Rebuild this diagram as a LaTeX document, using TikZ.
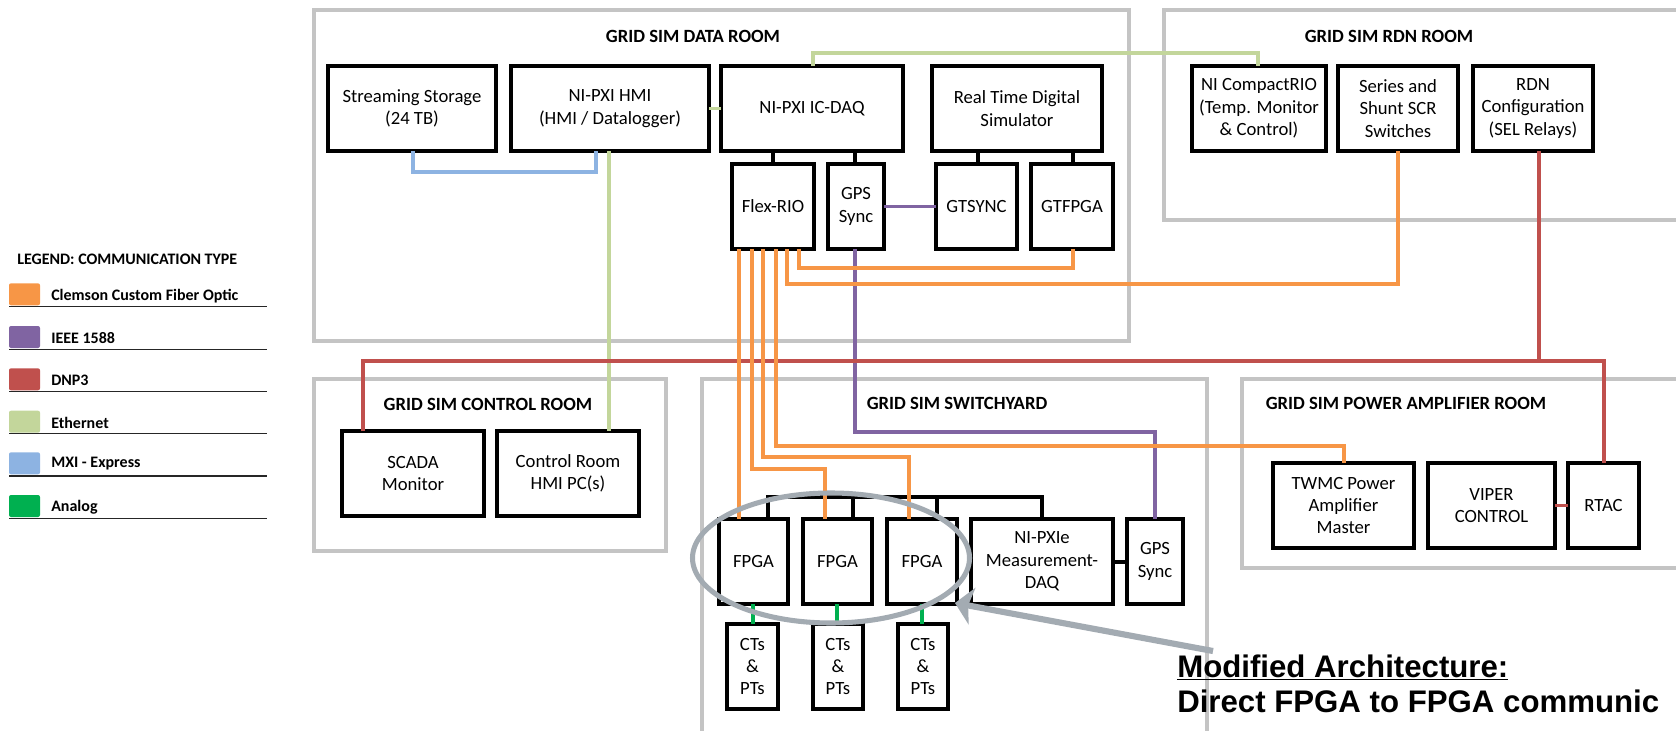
\documentclass[tikz,border=0pt]{standalone}
\usepackage{fontspec}
\setmainfont{Carlito}
\newfontfamily\arialfont{Liberation Sans}
\usetikzlibrary{arrows.meta,shapes.geometric}
\definecolor{cOrange}{RGB}{247,150,70}
\definecolor{cPurple}{RGB}{128,100,162}
\definecolor{cRed}{RGB}{192,80,77}
\definecolor{cEth}{RGB}{195,214,155}
\definecolor{cMxi}{RGB}{141,179,226}
\definecolor{cAnalog}{RGB}{0,176,80}
\definecolor{cRoom}{RGB}{196,196,196}
\definecolor{cHl}{RGB}{163,171,178}
\newcommand\roomrect[5]{\node[room, minimum width={(#4-#2)*0.75pt}, minimum height={(#5-#3)*0.75pt}] (#1) at ({(#2+#4)/2},{(#3+#5)/2}) {};}
\newcommand\devbox[6]{\node[devbox, minimum width={(#4-#2)*0.75pt}, minimum height={(#5-#3)*0.75pt}] (#1) at ({(#2+#4)/2},{(#3+#5)/2}) {#6};}
\begin{document}
\begin{tikzpicture}[x=0.75pt,y=-0.75pt,
  room/.style={draw=cRoom, line width=2.4pt, inner sep=0pt, outer sep=0pt},
  devbox/.style={draw=black, fill=white, line width=2.6pt, inner sep=0pt, outer sep=0pt, align=center, font=\fontsize{14}{16.8}\selectfont},
  roomtitle/.style={font=\bfseries\fontsize{14}{16.8}\selectfont, inner sep=0pt},
  conn/.style={line width=2.8pt},
  fiber/.style={conn, draw=cOrange},
  ieee/.style={conn, draw=cPurple},
  dnp/.style={conn, draw=cRed},
  eth/.style={conn, draw=cEth},
  mxi/.style={conn, draw=cMxi},
  analog/.style={conn, draw=cAnalog},
  blk/.style={conn, draw=black, line width=3pt},
  swatch/.style={draw=none, rounded corners=1.5pt, minimum width=31*0.75pt, minimum height=22*0.75pt, inner sep=0pt},
  legtext/.style={font=\bfseries\fontsize{12}{14}\selectfont, anchor=west, inner sep=0pt},
  legline/.style={draw=black!85, line width=1pt},
  hl/.style={draw=cHl, line width=3.8pt},
  bigtext/.style={font=\arialfont\bfseries\fontsize{23.4}{28}\selectfont, anchor=base west, inner sep=0pt}
]
\useasboundingbox (0,0) rectangle (1676,731);
\clip (0,0) rectangle (1676,731);

% ---------- rooms ----------
\roomrect{dataroom}{314}{10}{1129}{341}
\roomrect{rdnroom}{1164}{10}{1700}{220}
\roomrect{ctrlroom}{314}{379}{666}{551}
\roomrect{switchyard}{702}{379}{1207}{760}
\roomrect{paroom}{1242}{379}{1700}{568}

\node[roomtitle] (t1) at (693,36) {GRID SIM DATA ROOM};
\node[roomtitle] (t2) at (1389,36) {GRID SIM RDN ROOM};
\node[roomtitle] (t3) at (488,404) {GRID SIM CONTROL ROOM};
\node[roomtitle] (t4) at (957,403) {GRID SIM SWITCHYARD};
\node[roomtitle] (t5) at (1406,403) {GRID SIM POWER AMPLIFIER ROOM};

% ---------- devices ----------
\devbox{ssd}{328}{66}{496}{151}{Streaming Storage\\(24 TB)}
\devbox{hmi}{511}{66}{709}{151}{NI-PXI HMI\\(HMI / Datalogger)}
\devbox{icdaq}{721}{66}{903}{151}{NI-PXI IC-DAQ}
\devbox{rtds}{932}{66}{1102}{151}{Real Time Digital\\Simulator}
\devbox{flex}{732}{164}{814}{249}{Flex-RIO}
\devbox{gpsa}{828}{164}{884}{249}{GPS\\Sync}
\devbox{gtsync}{936}{164}{1017}{249}{GTSYNC}
\devbox{gtfpga}{1031}{164}{1113}{249}{GTFPGA}
\devbox{crio}{1192}{66}{1326}{151}{NI CompactRIO\\(Temp. Monitor\\\& Control)}
\devbox{scr}{1338}{66}{1458}{151}{Series and\\Shunt SCR\\Switches}
\devbox{rdn}{1473}{66}{1593}{151}{RDN\\Configuration\\(SEL Relays)}
\devbox{scada}{342}{431}{484}{516}{SCADA\\Monitor}
\devbox{crhmi}{497}{431}{639}{516}{Control Room\\HMI PC(s)}
\devbox{fpga1}{719}{519}{788}{604}{FPGA}
\devbox{fpga2}{803}{519}{872}{604}{FPGA}
\devbox{fpga3}{887}{519}{957}{604}{FPGA}
\devbox{pxie}{971}{519}{1113}{604}{NI-PXIe\\Measurement-\\DAQ}
\devbox{gpsb}{1127}{519}{1183}{604}{GPS\\Sync}
\devbox{ct1}{727}{624}{778}{709}{CTs\\\&\\PTs}
\devbox{ct2}{813}{624}{863}{709}{CTs\\\&\\PTs}
\devbox{ct3}{898}{624}{948}{709}{CTs\\\&\\PTs}
\devbox{twmc}{1273}{463}{1414}{548}{TWMC Power\\Amplifier\\Master}
\devbox{viper}{1428}{463}{1555}{548}{VIPER\\CONTROL}
\devbox{rtac}{1568}{463}{1639}{548}{RTAC}

% ---------- black links ----------
\draw[blk] (773,0 |- icdaq.south) -- (773,0 |- flex.north);
\draw[blk] (855,0 |- icdaq.south) -- (855,0 |- gpsa.north);
\draw[blk] (978,0 |- rtds.south) -- (978,0 |- gtsync.north);
\draw[blk] (1073,0 |- rtds.south) -- (1073,0 |- gtfpga.north);
\draw[blk] (768,0 |- fpga1.north) |- (1042,497) -- (1042,0 |- pxie.north);
\draw[blk] (853,497) -- (853,0 |- fpga2.north);
\draw[blk] (937,497) -- (937,0 |- fpga3.north);
\draw[blk] (pxie.east) -- (gpsb.west);

% ---------- MXI ----------
\draw[mxi] (413,0 |- ssd.south) |- (596,172) -- (596,0 |- hmi.south);

% ---------- Ethernet ----------
\draw[eth] (hmi.east) -- (icdaq.west);
\draw[eth] (813,0 |- icdaq.north) |- (1258,53) -- (1258,0 |- crio.north);
\draw[eth] (609,0 |- hmi.south) -- (609,0 |- crhmi.north);

% ---------- IEEE 1588 ----------
\draw[ieee] (gpsa.east) -- (gtsync.west);
\draw[ieee] (855,0 |- gpsa.south) |- (1155,432) -- (1155,0 |- gpsb.north);

% ---------- DNP3 ----------
\draw[dnp] (363,0 |- scada.north) |- (1604,361) -- (1604,0 |- rtac.north);
\draw[dnp] (1539,0 |- rdn.south) -- (1539,361);
\draw[dnp] (viper.east) -- (rtac.west);

% ---------- Fiber ----------
\draw[fiber] (799,0 |- flex.south) |- (1073,268) -- (1073,0 |- gtfpga.south);
\draw[fiber] (787,0 |- flex.south) |- (1398,284) -- (1398,0 |- scr.south);
\draw[fiber] (739,0 |- flex.south) -- (739,0 |- fpga1.north);
\draw[fiber] (752,0 |- flex.south) |- (825,469) -- (825,0 |- fpga2.north);
\draw[fiber] (763,0 |- flex.south) |- (909,457) -- (909,0 |- fpga3.north);
\draw[fiber] (776,0 |- flex.south) |- (1344,446) -- (1344,0 |- twmc.north);

% ---------- Analog ----------
\draw[analog] (753,0 |- fpga1.south) -- (753,0 |- ct1.north);
\draw[analog] (837,0 |- fpga2.south) -- (837,0 |- ct2.north);
\draw[analog] (922,0 |- fpga3.south) -- (922,0 |- ct3.north);

% ---------- legend ----------
\node[legtext] (legtitle) at (17,259) {LEGEND: COMMUNICATION TYPE};
\node[swatch, fill=cOrange] (sw1) at (24.5,294.3) {};
\node[swatch, fill=cPurple] (sw2) at (24.5,337) {};
\node[swatch, fill=cRed] (sw3) at (24.5,379.3) {};
\node[swatch, fill=cEth] (sw4) at (24.5,421.7) {};
\node[swatch, fill=cMxi] (sw5) at (24.5,463.3) {};
\node[swatch, fill=cAnalog] (sw6) at (24.5,506) {};
\node[legtext] (lt1) at (51,296) {Clemson Custom Fiber Optic};
\node[legtext] (lt2) at (51,338) {IEEE 1588};
\node[legtext] (lt3) at (51,380) {DNP3};
\node[legtext] (lt4) at (51,423) {Ethernet};
\node[legtext] (lt5) at (51,464) {MXI - Express};
\node[legtext] (lt6) at (51,507) {Analog};
\draw[legline] (9,306.7) -- (267,306.7);
\draw[legline] (9,349.3) -- (267,349.3);
\draw[legline] (9,391.7) -- (267,391.7);
\draw[legline] (9,433.3) -- (267,433.3);
\draw[legline] (9,476) -- (267,476);
\draw[legline] (9,518.3) -- (267,518.3);

% ---------- highlight ----------
\node[hl, ellipse, minimum width=277*0.75pt, minimum height=130*0.75pt, inner sep=0pt] (ring) at (831,558) {};
\node[bigtext] (modtitle) at (1177,677) {\underline{Modified Architecture:}};
\node[bigtext] (moddesc) at (1177,712) {Direct FPGA to FPGA communic};
\coordinate (arrstart) at (1213,651);
\coordinate (arrtip) at (955,603);
\draw[hl, line width=4.6pt, -{Stealth[length=13pt, width=28pt, inset=3pt]}] (arrstart) -- (arrtip);
\end{tikzpicture}
\end{document}
